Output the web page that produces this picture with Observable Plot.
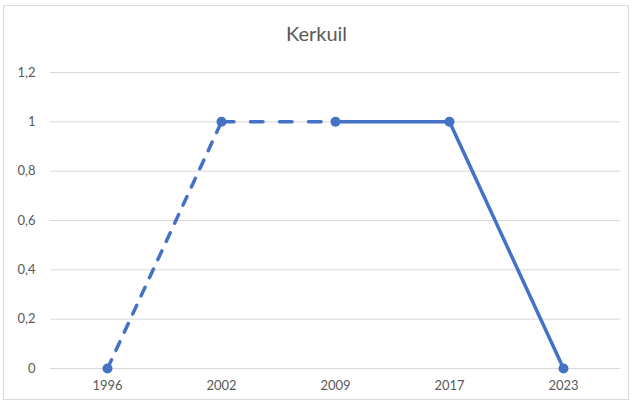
<!DOCTYPE html>
<html>
<head>
<meta charset="utf-8">
<script src="https://cdn.jsdelivr.net/npm/d3@7"></script>
<script src="https://cdn.jsdelivr.net/npm/@observablehq/plot@0.6"></script>
<style>
  body { margin: 0; background: #fff; }
  #wrap { position: relative; width: 633px; height: 407px; overflow: hidden; font-family: Lato, "Open Sans", sans-serif; }
  #frame { position: absolute; left: 3px; top: 5px; width: 626px; height: 395px; border: 1px solid #d9d9d9; box-sizing: border-box; }
  #title { position: absolute; left: 0; width: 633px; top: 21px; text-align: center; font-size: 20px; color: #595959; }
  #chart { position: absolute; left: 0; top: 0; }
</style>
</head>
<body>
<div id="wrap">
  <div id="frame"></div>
  <div id="title">Kerkuil</div>
  <div id="chart"></div>
</div>
<script>
const years = ["1996", "2002", "2009", "2017", "2023"];
const values = [0, 1, 1, 1, 0];
// style of the segment leading from each point to the next
const segmentStyles = ["dashed", "dashed", "solid", "solid"];
const yTicks = [0, 0.2, 0.4, 0.6, 0.8, 1, 1.2];

const points = years.map((y, i) => ({year: y, value: values[i]}));
const segs = [];
segmentStyles.forEach((s, i) => {
  segs.push({seg: i, style: s, year: years[i], value: values[i]});
  segs.push({seg: i, style: s, year: years[i + 1], value: values[i + 1]});
});
const color = "#4472C4";
const fmt = d => String(d).replace(".", ",");
const dashes = ["9.5,10.5", "12.5,16.5"];

const plot = Plot.plot({
  width: 633,
  height: 407,
  marginLeft: 50,
  marginRight: 13,
  marginTop: 72,
  marginBottom: 39,
  style: {fontFamily: "Lato, 'Open Sans', sans-serif", fontSize: "13px", color: "#595959", background: "transparent"},
  x: {type: "band", domain: years, padding: 0, label: null},
  y: {domain: [0, 1.2], label: null},
  marks: [
    Plot.ruleY(yTicks, {stroke: "#d9d9d9", strokeWidth: 1}),
    Plot.axisY(yTicks, {tickSize: 0, tickPadding: 15, tickFormat: fmt, label: null, fill: "#595959"}),
    Plot.axisX({tickSize: 0, tickPadding: 12, label: null, fill: "#595959"}),
    ...segmentStyles.map((s, i) => s === "dashed"
      ? Plot.line(segs.filter(d => d.seg === i), {x: "year", y: "value", stroke: color, strokeWidth: 3.5, strokeDasharray: dashes[i % dashes.length], strokeLinecap: "round"})
      : Plot.line(segs.filter(d => d.seg === i), {x: "year", y: "value", stroke: color, strokeWidth: 3.5, strokeLinecap: "round"})),
    Plot.dot(points, {x: "year", y: "value", r: 5, fill: color, stroke: "none"})
  ]
});
document.getElementById("chart").appendChild(plot);
</script>
</body>
</html>
